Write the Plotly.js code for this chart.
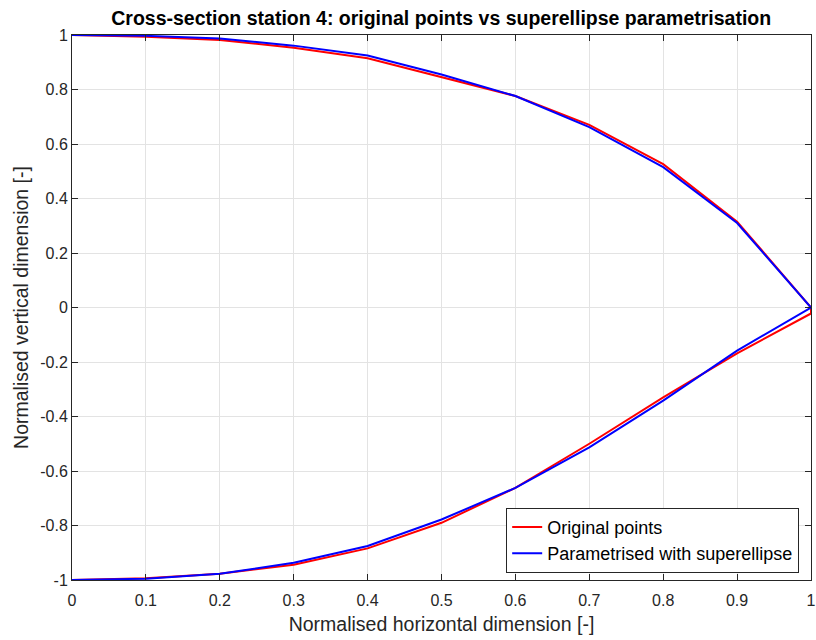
<!DOCTYPE html>
<html>
<head>
<meta charset="utf-8">
<script src="https://cdn.plot.ly/plotly-3.0.1.min.js"></script>
<style>
  html, body { margin: 0; padding: 0; background: #fff; }
  #chart { width: 816px; height: 640px; }
</style>
</head>
<body>
<div id="chart"></div>
<script>
// Normalised half cross-section at station 4 (upper and lower contour)
const xStations = [0, 0.1, 0.2, 0.3, 0.4, 0.5, 0.6, 0.7, 0.8, 0.9, 1];

// Original measured points
const origUpper = [1, 0.994, 0.982, 0.953, 0.915, 0.845, 0.776, 0.670, 0.526, 0.315, 0];
const origLower = [-1, -0.994, -0.977, -0.944, -0.884, -0.790, -0.662, -0.500, -0.330, -0.168, -0.022];

// Superellipse fit
const fitUpper = [1, 0.997, 0.987, 0.961, 0.925, 0.855, 0.776, 0.662, 0.515, 0.310, 0];
const fitLower = [-1, -0.995, -0.977, -0.937, -0.875, -0.778, -0.662, -0.513, -0.342, -0.158, 0];

const xTickVals = [0, 0.1, 0.2, 0.3, 0.4, 0.5, 0.6, 0.7, 0.8, 0.9, 1];
const xTickText = ['0', '0.1', '0.2', '0.3', '0.4', '0.5', '0.6', '0.7', '0.8', '0.9', '1'];
const yTickVals = [-1, -0.8, -0.6, -0.4, -0.2, 0, 0.2, 0.4, 0.6, 0.8, 1];
const yTickText = ['-1', '-0.8', '-0.6', '-0.4', '-0.2', '0', '0.2', '0.4', '0.6', '0.8', '1'];

// Closed contour: upper from left to right, then lower back to the left
function contour(upper, lower) {
  const xs = xStations.slice();
  const ys = upper.slice();
  for (let i = xStations.length - 1; i >= 0; i--) {
    xs.push(xStations[i]);
    ys.push(lower[i]);
  }
  return { xs, ys };
}

const orig = contour(origUpper, origLower);
const fit = contour(fitUpper, fitLower);

const FONT = 'Liberation Sans, Arial, sans-serif';

const traces = [
  {
    x: orig.xs, y: orig.ys, mode: 'lines', name: 'Original points',
    line: { color: '#ff0000', width: 2 }
  },
  {
    x: fit.xs, y: fit.ys, mode: 'lines', name: 'Parametrised with superellipse',
    line: { color: '#0000ff', width: 2 }
  }
];

const axisCommon = {
  showgrid: true,
  gridcolor: '#e3e3e3',
  gridwidth: 1,
  zeroline: false,
  showline: true,
  linecolor: '#262626',
  linewidth: 1,
  mirror: 'ticks',
  ticks: 'inside',
  ticklen: 6,
  tickcolor: '#262626',
  tickfont: { family: FONT, size: 16, color: '#262626' },
  tickmode: 'array'
};

const layout = {
  width: 816,
  height: 640,
  margin: { l: 72, r: 5, t: 35, b: 60 },
  paper_bgcolor: '#ffffff',
  plot_bgcolor: '#ffffff',
  showlegend: true,
  title: {
    text: '<b>Cross-section station 4: original points vs superellipse parametrisation</b>',
    font: { family: FONT, size: 19.5, color: '#000000' },
    x: 0.5407, xanchor: 'center',
    y: 0.972, yanchor: 'middle'
  },
  xaxis: Object.assign({}, axisCommon, {
    range: [0, 1],
    tickvals: xTickVals,
    ticktext: xTickText,
    ticklabelstandoff: 6,
    title: {
      text: 'Normalised horizontal dimension [-]',
      font: { family: FONT, size: 19.5, color: '#262626' },
      standoff: 9
    }
  }),
  yaxis: Object.assign({}, axisCommon, {
    range: [-1, 1],
    tickvals: yTickVals,
    ticktext: yTickText,
    title: {
      text: 'Normalised vertical dimension [-]',
      font: { family: FONT, size: 19.5, color: '#262626' },
      standoff: 6
    }
  }),
  legend: {
    x: 0.984, xanchor: 'right',
    y: 0.073, yanchor: 'middle',
    bgcolor: '#ffffff',
    bordercolor: '#262626',
    borderwidth: 1,
    font: { family: FONT, size: 18, color: '#000000' },
    tracegroupgap: 0
  }
};

Plotly.newPlot('chart', traces, layout, { displayModeBar: false, staticPlot: true });
</script>
</body>
</html>
